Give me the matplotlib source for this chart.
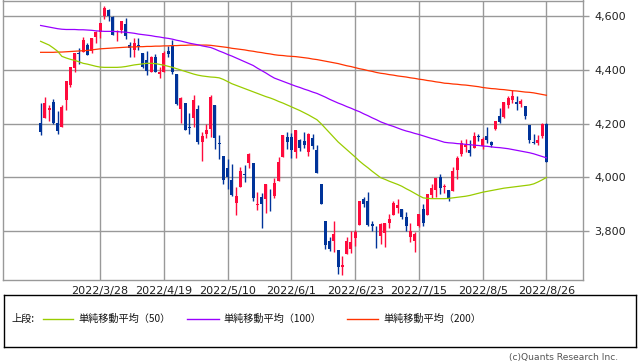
import matplotlib
matplotlib.use("Agg")

import matplotlib.pyplot as plt
from matplotlib.lines import Line2D
import numpy as np

# ------------------------------------------------------------
# DATA (daily candles 2022/3/8 - 2022/8/26)
# ------------------------------------------------------------
dates = (
    ["2022/3/%d" % d for d in [8, 9, 10, 11, 14, 15, 16, 17, 18, 21, 22, 23, 24, 25, 28, 29, 30, 31]]
    + ["2022/4/%d" % d for d in [1, 4, 5, 6, 7, 8, 11, 12, 13, 14, 18, 19, 20, 21, 22, 25, 26, 27, 28, 29]]
    + ["2022/5/%d" % d for d in [2, 3, 4, 5, 6, 9, 10, 11, 12, 13, 16, 17, 18, 19, 20, 23, 24, 25, 26, 27, 31]]
    + ["2022/6/%d" % d for d in [1, 2, 3, 6, 7, 8, 9, 10, 13, 14, 15, 16, 17, 21, 22, 23, 24, 27, 28, 29, 30]]
    + ["2022/7/%d" % d for d in [1, 5, 6, 7, 8, 11, 12, 13, 14, 15, 18, 19, 20, 21, 22, 25, 26, 27, 28, 29]]
    + ["2022/8/%d" % d for d in [1, 2, 3, 4, 5, 8, 9, 10, 11, 12, 15, 16, 17, 18, 19, 22, 23, 24, 25, 26]]
)

opens = [
    4203, 4223, 4253, 4280, 4203, 4189, 4288, 4345, 4407, 4462, 4469, 4493, 4470, 4523, 4541, 4603, 4624, 4599,
    4540, 4548, 4572, 4494, 4475, 4494, 4463, 4438, 4394, 4449, 4386, 4391, 4472, 4489, 4386, 4255, 4278, 4187, 4223, 4254,
    4131, 4160, 4181, 4270, 4128, 4081, 4035, 3990, 3904, 3964, 4013, 4052, 4052, 3899, 3928, 3919, 3943, 3930, 3985, 4077, 4151,
    4150, 4095, 4138, 4135, 4096, 4147, 4102, 3974, 3838, 3764, 3764, 3728, 3666, 3715, 3734, 3775, 3822, 3921, 3913, 3825, 3786,
    3781, 3793, 3832, 3859, 3888, 3881, 3852, 3780, 3764, 3818, 3884, 3861, 3935, 3955, 4001, 3966, 3953, 3951, 4026, 4087,
    4112, 4104, 4108, 4155, 4116, 4156, 4133, 4181, 4227, 4225, 4269, 4290, 4280, 4273, 4266, 4195, 4133, 4127, 4153, 4199,
]
highs = [
    4277, 4299, 4268, 4291, 4248, 4271, 4359, 4413, 4465, 4482, 4522, 4501, 4521, 4546, 4576, 4637, 4628, 4603,
    4549, 4584, 4593, 4504, 4521, 4520, 4464, 4471, 4454, 4460, 4410, 4471, 4488, 4513, 4386, 4299, 4278, 4241, 4308, 4270,
    4170, 4200, 4308, 4270, 4158, 4081, 4069, 4049, 3965, 4039, 4046, 4091, 4052, 3946, 3943, 3975, 3956, 3999, 4075, 4158, 4168,
    4167, 4178, 4143, 4169, 4165, 4160, 4119, 3974, 3838, 3778, 3838, 3728, 3708, 3780, 3802, 3803, 3914, 3928, 3946, 3837, 3819,
    3830, 3832, 3865, 3911, 3919, 3881, 3873, 3829, 3796, 3864, 3902, 3940, 3974, 3999, 4012, 3975, 3953, 4040, 4079, 4140,
    4145, 4140, 4168, 4161, 4152, 4187, 4137, 4211, 4258, 4280, 4302, 4325, 4302, 4293, 4266, 4195, 4160, 4157, 4201, 4203,
]
lows = [
    4158, 4223, 4210, 4200, 4162, 4188, 4252, 4336, 4391, 4424, 4469, 4456, 4465, 4501, 4518, 4590, 4581, 4530,
    4508, 4539, 4514, 4450, 4450, 4475, 4408, 4381, 4393, 4391, 4370, 4391, 4449, 4384, 4268, 4201, 4175, 4163, 4189, 4124,
    4063, 4147, 4149, 4106, 4068, 3975, 3958, 3929, 3859, 3964, 3984, 4034, 3912, 3877, 3810, 3869, 3875, 3925, 3985, 4077, 4105,
    4074, 4074, 4099, 4109, 4080, 4107, 4017, 3900, 3734, 3725, 3722, 3640, 3637, 3715, 3718, 3744, 3822, 3890, 3820, 3799, 3739,
    3752, 3742, 3811, 3859, 3869, 3847, 3802, 3759, 3722, 3817, 3819, 3861, 3922, 3928, 3938, 3943, 3911, 3951, 3993, 4079,
    4096, 4080, 4108, 4135, 4107, 4129, 4112, 4177, 4201, 4220, 4257, 4278, 4253, 4262, 4219, 4130, 4124, 4120, 4148, 4058,
]
closes = [
    4171, 4278, 4260, 4204, 4173, 4262, 4358, 4412, 4463, 4461, 4512, 4456, 4520, 4543, 4576, 4632, 4602, 4530,
    4546, 4583, 4525, 4481, 4500, 4488, 4413, 4397, 4447, 4393, 4392, 4462, 4459, 4394, 4272, 4296, 4175, 4184, 4288, 4132,
    4155, 4175, 4300, 4147, 4123, 3991, 4001, 3935, 3930, 4024, 4008, 4089, 3924, 3901, 3901, 3974, 3941, 3979, 4058, 4158, 4132,
    4101, 4177, 4109, 4121, 4161, 4116, 4018, 3901, 3750, 3735, 3790, 3667, 3675, 3765, 3760, 3796, 3912, 3900, 3822, 3819, 3785,
    3825, 3831, 3845, 3903, 3899, 3854, 3819, 3802, 3790, 3863, 3831, 3937, 3960, 3999, 3962, 3967, 3921, 4024, 4072, 4130,
    4119, 4091, 4155, 4152, 4145, 4140, 4122, 4210, 4207, 4280, 4297, 4305, 4274, 4284, 4228, 4138, 4129, 4141, 4199, 4058,
]

# moving averages as drawn on the chart
ma50 = [
    4507, 4500, 4493, 4482, 4470, 4451, 4445, 4440, 4436, 4431, 4425, 4422, 4418, 4414, 4411,
    4410, 4410, 4410, 4410, 4411, 4413, 4416, 4419, 4421, 4423, 4425, 4425, 4424, 4421, 4418,
    4414, 4410, 4405, 4400, 4395, 4390, 4385, 4381, 4378, 4376, 4374, 4373, 4371, 4365, 4357,
    4349, 4343, 4337, 4331, 4325, 4319, 4313, 4307, 4301, 4296, 4290, 4283, 4277, 4270, 4263,
    4256, 4249, 4241, 4233, 4224, 4215, 4200, 4183, 4166, 4149, 4132, 4118, 4104, 4090, 4076,
    4061, 4048, 4036, 4023, 4011, 3999, 3993, 3986, 3980, 3974, 3967, 3958, 3950, 3941, 3932,
    3924, 3922, 3921, 3921, 3921, 3921, 3922, 3924, 3926, 3928, 3930, 3933, 3937, 3941, 3945,
    3948, 3951, 3954, 3957, 3960, 3962, 3964, 3966, 3968, 3970, 3972, 3976, 3983, 3991, 4000,
]
ma100 = [
    4566, 4563, 4560, 4557, 4554, 4552, 4551, 4551, 4551, 4550, 4550, 4549, 4548, 4546, 4545,
    4544, 4544, 4544, 4543, 4542, 4541, 4539, 4537, 4534, 4532, 4530, 4528, 4525, 4523, 4520,
    4518, 4515, 4511, 4508, 4504, 4500, 4497, 4494, 4490, 4487, 4484, 4478, 4471, 4465, 4458,
    4452, 4445, 4438, 4431, 4424, 4417, 4407, 4398, 4389, 4379, 4370, 4364, 4358, 4352, 4346,
    4340, 4335, 4329, 4324, 4318, 4313, 4306, 4299, 4291, 4284, 4277, 4271, 4264, 4258, 4251,
    4245, 4237, 4230, 4222, 4215, 4207, 4201, 4195, 4190, 4184, 4178, 4173, 4169, 4164, 4160,
    4155, 4150, 4145, 4141, 4136, 4131, 4129, 4128, 4126, 4125, 4123, 4122, 4120, 4119, 4117,
    4116, 4114, 4112, 4111, 4109, 4107, 4104, 4101, 4098, 4095, 4092, 4088, 4083, 4078, 4073,
]
ma200 = [
    4466, 4466, 4466, 4466, 4467, 4467, 4468, 4469, 4470, 4471, 4472, 4473, 4475, 4477, 4479,
    4480, 4481, 4482, 4483, 4484, 4485, 4486, 4486, 4487, 4487, 4488, 4488, 4489, 4489, 4490,
    4490, 4491, 4491, 4492, 4492, 4493, 4493, 4493, 4493, 4493, 4492, 4490, 4488, 4486, 4484,
    4481, 4479, 4477, 4475, 4472, 4470, 4467, 4465, 4462, 4460, 4457, 4455, 4454, 4452, 4451,
    4450, 4448, 4446, 4444, 4441, 4439, 4436, 4433, 4430, 4427, 4424, 4420, 4416, 4413, 4409,
    4405, 4402, 4398, 4395, 4391, 4388, 4386, 4383, 4381, 4378, 4376, 4374, 4371, 4369, 4366,
    4364, 4361, 4359, 4356, 4354, 4351, 4350, 4348, 4347, 4345, 4344, 4342, 4340, 4338, 4335,
    4333, 4331, 4330, 4328, 4327, 4325, 4323, 4322, 4320, 4318, 4317, 4315, 4312, 4309, 4306,
]

tick_dates = ["2022/3/28", "2022/4/19", "2022/5/10", "2022/6/1",
              "2022/6/23", "2022/7/15", "2022/8/5", "2022/8/26"]
y_ticks = [3800, 4000, 4200, 4400, 4600]

ma_labels = ["単純移動平均（50）", "単純移動平均（100）", "単純移動平均（200）"]

# ------------------------------------------------------------
# STYLE
# ------------------------------------------------------------
UP = "#ff0a3c"
DOWN = "#003399"
GRID = "#999999"
C50 = "#99cc00"
C100 = "#9900ff"
C200 = "#ff3300"
JP_FONT = ["Noto Sans CJK JP", "DejaVu Sans"]

W, H = 638, 362
fig = plt.figure(figsize=(W / 100, H / 100), dpi=100)

def fx(px):
    return px / W

def fy(py):
    return 1 - py / H

# ------------------------------------------------------------
# PRICE PANEL
# ------------------------------------------------------------
ax = fig.add_axes([fx(3), fy(280), fx(583) - fx(3), fy(0.5) - fy(280)])

x = np.arange(len(dates))
o = np.array(opens)
h = np.array(highs)
l = np.array(lows)
c = np.array(closes)
colors = np.where(c >= o, UP, DOWN)

ax.vlines(x, l, h, colors=colors, lw=1.0, zorder=2)
body_low = np.minimum(o, c)
body_h = np.maximum(np.abs(c - o), 2)
ax.bar(x, body_h, bottom=body_low, width=0.72, color=colors, lw=0, zorder=2)

ax.plot(x, ma200, color=C200, lw=0.9, zorder=3)
ax.plot(x, ma100, color=C100, lw=0.9, zorder=3)
ax.plot(x, ma50, color=C50, lw=0.9, zorder=3)

ax.set_xlim(-8.85, 127.6)
ax.set_ylim(3618, 4659)

xt = [dates.index(d) for d in tick_dates]
ax.set_xticks(xt)
ax.set_xticklabels(tick_dates)
ax.set_yticks(y_ticks)
ax.set_yticklabels(["{:,}".format(v) for v in y_ticks])
ax.yaxis.tick_right()

ax.grid(True, color=GRID, lw=1.0)
ax.set_axisbelow(True)
for s in ax.spines.values():
    s.set_color(GRID)
    s.set_linewidth(1.0)

ax.tick_params(axis="x", length=0, pad=4, labelsize=8, colors="#222222")
ax.tick_params(axis="y", length=4, width=1.0, color=GRID, pad=4,
               labelsize=8, labelcolor="#222222")

# ------------------------------------------------------------
# LEGEND BOX
# ------------------------------------------------------------
lg = fig.add_axes([fx(3.5), fy(346.5), fx(636) - fx(3.5), fy(295) - fy(346.5)])
lg.set_xticks([])
lg.set_yticks([])
for s in lg.spines.values():
    s.set_color("black")
    s.set_linewidth(1.0)

ly = fy(318.5)
fig.text(fx(11), ly, "上段:", family=JP_FONT, fontsize=7.3, va="center", color="#111111")
for (x0, x1, tx), col, lab in zip([(43, 73, 78), (187, 219, 223), (347, 378, 383)],
                                  [C50, C100, C200], ma_labels):
    fig.add_artist(Line2D([fx(x0), fx(x1)], [ly, ly], color=col, lw=1.0,
                          transform=fig.transFigure))
    fig.text(fx(tx), ly, lab, family=JP_FONT, fontsize=7.3, va="center", color="#111111")

fig.text(fx(618), fy(357.5), "(c)Quants Research Inc.", fontsize=6.6,
         ha="right", va="center", color="#555555")

fig.savefig("out.png", dpi=100)
